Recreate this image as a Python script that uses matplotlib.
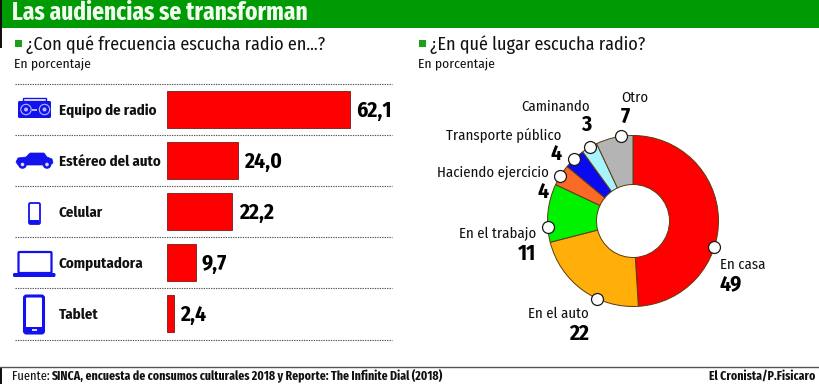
import numpy as np
import matplotlib
matplotlib.use("Agg")
import matplotlib.pyplot as plt
from matplotlib import font_manager as fm
from matplotlib.patches import Rectangle, FancyBboxPatch, Circle, Polygon

names = {f.name for f in fm.fontManager.ttflist}
FONT = [n for n in ['Fira Sans Condensed', 'PT Sans Narrow', 'Liberation Sans Narrow', 'Liberation Sans'] if n in names]
NARROW = [n for n in ['Fira Sans Extra Condensed', 'Fira Sans Condensed', 'PT Sans Narrow', 'Liberation Sans Narrow', 'Liberation Sans'] if n in names]
plt.rcParams['font.family'] = FONT

W, H = 820, 384
bar_labels = ["Equipo de radio", "Estéreo del auto", "Celular", "Computadora", "Tablet"]
bar_values = [62.1, 24.0, 22.2, 9.7, 2.4]
bar_texts = ["62,1", "24,0", "22,2", "9,7", "2,4"]
pie_labels = ["En casa", "En el auto", "En el trabajo", "Haciendo ejercicio",
              "Transporte público", "Caminando", "Otro"]
pie_values = [49, 22, 11, 4, 4, 3, 7]
pie_colors = ["#fe0000", "#ffae0a", "#00f200", "#fa6a26", "#0a0af0", "#a8f4fc", "#b4b4b4"]
marker_fracs = [0.61, 0.36, 0.26, 0.45, 0.50, 0.57, 0.69]

BLUE = "#1212ee"
DARK = "#111111"
fig = plt.figure(figsize=(W / 100, H / 100), dpi=100, facecolor="white")

def axpx(x0, y0, x1, y1, **kw):
    return fig.add_axes([x0 / W, 1 - y1 / H, (x1 - x0) / W, (y1 - y0) / H], **kw)

ov = axpx(0, 0, W, H)
ov.set_xlim(0, W); ov.set_ylim(H, 0); ov.axis("off")

ov.add_patch(Rectangle((0, 0), W, 27.5, fc="#009a05", ec="none"))
ov.add_patch(Rectangle((0, 0), 2, 48, fc="#111111", ec="none"))
ov.text(12, 13, "Las audiencias se transforman", color="#f2fff0", fontsize=18.3,
        fontweight="bold", va="center", ha="left", family=NARROW)

for x, t in [(15, "¿Con qué frecuencia escucha radio en...?"), (419, "¿En qué lugar escucha radio?")]:
    ov.add_patch(Rectangle((x, 40), 7, 7, fc="#1ba01b", ec="none"))
    ov.text(x + 11, 44.5, t, fontsize=13, color=DARK, va="center", ha="left")
ov.text(14, 63.5, "En porcentaje", fontsize=9.8, color=DARK, va="center", ha="left")
ov.text(418, 63.5, "En porcentaje", fontsize=9.8, color=DARK, va="center", ha="left")

for y in [84, 135, 186, 237, 288, 340]:
    ov.plot([15, 392], [y, y], color="#555555", lw=0.8, ls=(0, (1.2, 1.0)))

axb = axpx(167, 84, 392, 340)
axb.patch.set_alpha(0)
pos = np.arange(len(bar_values))
axb.barh(pos, bar_values, height=37 / 51, color="#ff0000", edgecolor="#7a1a1a", linewidth=0.6)
axb.set_xlim(0, 225 / (183 / 62.1))
axb.set_ylim(len(bar_values) - 0.5 + 0.01, -0.5)
axb.axis("off")
for p, v, t, lab in zip(pos, bar_values, bar_texts, bar_labels):
    axb.annotate(t, (v, p), xytext=(4.6, -1), textcoords="offset points", fontsize=15.5,
                 fontweight="bold", color="#000000", va="center", ha="left")
    ov.text(59, 110.5 + 51 * p, lab, fontsize=10.7, fontweight="bold", color=DARK, va="center", ha="left")

def rrect(x, y, w, h, r=1.5, fc=BLUE, ec="none", lw=0):
    ov.add_patch(FancyBboxPatch((x + r, y + r), w - 2 * r, h - 2 * r, boxstyle=f"round,pad={r}",
                                fc=fc, ec=ec, lw=lw))
# boombox
rrect(18, 101, 33, 17, 1.5)
ov.add_patch(Rectangle((23, 98), 23, 3, fc="none", ec=BLUE, lw=1))
for cxi in (26, 44.5):
    ov.add_patch(Circle((cxi, 109.5), 5.2, fc="none", ec="#b8b8ff", lw=0.8))
    ov.add_patch(Circle((cxi, 109.5), 2, fc="#b8b8ff", ec="none"))
ov.add_patch(Rectangle((32.5, 109), 5, 1.5, fc="#b8b8ff", ec="none"))
# car
ov.add_patch(Polygon([(16, 162), (18, 158), (26, 157), (30, 153), (44, 153), (47, 157),
                      (52, 159), (53, 163), (50, 165), (18, 165)], fc=BLUE, ec=BLUE, lw=0.5))
for cxi in (22.5, 47):
    ov.add_patch(Circle((cxi, 164.5), 4.3, fc=BLUE, ec="none"))
    ov.add_patch(Circle((cxi, 164.5), 1.8, fc="#d8d8ff", ec="none"))
# phone
rrect(29, 203, 11, 21, 1.5, fc="white", ec=BLUE, lw=1.3)
ov.add_patch(Rectangle((29.5, 220), 10, 3.5, fc=BLUE, ec="none"))
# laptop
rrect(18.5, 252, 33, 21, 1, fc="white", ec=BLUE, lw=1.6)
rrect(13, 273, 42.5, 4, 1.5)
# tablet
rrect(24.5, 296, 19, 37, 2, fc="white", ec=BLUE, lw=2.2)
ov.add_patch(Rectangle((24.5, 327), 19, 6, fc=BLUE, ec="none"))
ov.add_patch(Rectangle((32, 329), 5, 2, fc="#d8d8ff", ec="none"))

R, r = 85.5, 36.5
cx, cy = 633, 221
axp = axpx(cx - R, cy - R, cx + R, cy + R)
wedges, _ = axp.pie(pie_values, colors=pie_colors, startangle=90, counterclock=False, radius=1,
                    wedgeprops=dict(width=1 - r / R, edgecolor="#5a3a10", linewidth=0.7))
axp.set_xlim(-1, 1); axp.set_ylim(-1, 1)
axp.set_aspect("equal"); axp.patch.set_alpha(0)
cum = np.concatenate([[0], np.cumsum(pie_values)])
total = cum[-1]
for i, f in enumerate(marker_fracs):
    a = 2 * np.pi * (cum[i] + f * pie_values[i]) / total
    axp.plot(np.sin(a), np.cos(a), "o", ms=8.6, mfc="white", mec="#1a1a1a", mew=0.9, clip_on=False, zorder=5)

lab_pos = [(720, 265, "left"), (589, 314, "right"), (536, 234, "right"), (548.5, 173, "right"),
           (561, 135, "right"), (590, 107, "right"), (621, 98, "left")]
val_pos = [(720, 284, "left"), (589, 334, "right"), (536, 254, "right"), (549, 192, "right"),
           (562, 154, "right"), (591, 125, "right"), (621, 117, "left")]
for lab, v, (x, y, ha), (vx, vy, vha) in zip(pie_labels, pie_values, lab_pos, val_pos):
    ov.text(x, y, lab, fontsize=10.6, color=DARK, va="center", ha=ha)
    ov.text(vx, vy, str(v), fontsize=15.5, fontweight="bold", color="#000000", va="center", ha=vha)

ov.plot([0, 820], [367, 367], color="#555555", lw=1)
ov.add_patch(Rectangle((0, 367), 2, 17, fc="#111111", ec="none"))
ov.text(12, 376, "Fuente:", fontsize=9.7, color=DARK, va="center", ha="left", family=NARROW)
ov.text(51, 376, "SINCA, encuesta de consumos culturales 2018 y Reporte: The Infinite Dial (2018)",
        fontsize=9.25, fontweight="bold", color=DARK, va="center", ha="left", family=NARROW)
ov.text(815, 376, "El Cronista/P.Fisicaro", fontsize=9.25, fontweight="bold", color=DARK, va="center", ha="right", family=NARROW)

fig.savefig("out.png", dpi=100)
